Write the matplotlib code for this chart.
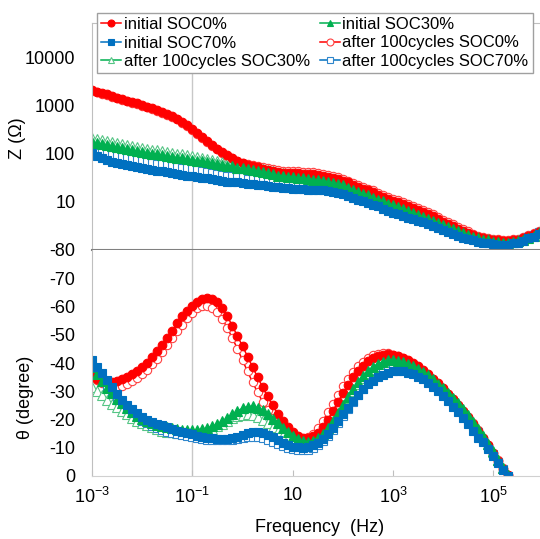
import matplotlib
matplotlib.use('Agg')
import matplotlib.pyplot as plt
from matplotlib.ticker import FixedLocator, FixedFormatter, NullLocator
import numpy as np

plt.rcParams['font.family'] = ['Liberation Sans', 'DejaVu Sans']
plt.rcParams['axes.unicode_minus'] = False
plt.rcParams.update({'mathtext.fontset': 'custom',
                     'mathtext.rm': 'Liberation Sans',
                     'mathtext.it': 'Liberation Sans:italic',
                     'mathtext.bf': 'Liberation Sans:bold'})

# %% data (10 points per decade sweep)
freq = np.logspace(-3, 6, 91)

# |Z| in ohm
z_init_soc0 = [2150, 2000, 1870, 1740, 1620, 1500, 1400, 1300, 1210, 1130,
               1050, 975, 910, 825, 750, 680, 620, 540, 465, 395,
               330, 275, 225, 187, 154, 130, 110, 95, 82, 73,
               65, 60, 56, 52.5, 48.7, 46.4, 44.2, 42.2, 41, 40.2,
               39.3, 39.3, 38.3, 38.3, 37.5, 36.5, 35, 33, 31.5, 29.5,
               28, 25.5, 23, 21, 19, 17.4, 15.8, 14.3, 13, 11.8,
               10.7, 10, 9.1, 8.2, 7.5, 6.8, 6.2, 5.6, 5.0, 4.4,
               3.9, 3.5, 3.1, 2.7, 2.5, 2.26, 2.05, 1.91, 1.78, 1.69,
               1.61, 1.58, 1.54, 1.54, 1.58, 1.65, 1.78, 1.96, 2.15, 2.4,
               2.74]
z_init_soc30 = [178, 170, 162, 154, 147, 140, 133, 127, 121, 115,
                110, 106, 102, 98, 95, 91, 87, 84, 81, 78,
                75, 73, 70, 68, 65, 62, 59, 57, 55, 52,
                50, 48, 45.5, 43.5, 41.5, 39.5, 37.5, 35.6, 34, 33.2,
                32.4, 31.6, 31, 30.1, 29.4, 28.7, 27.4, 26.1, 24.9, 23.2,
                22.1, 20, 18.2, 16.5, 15, 13.7, 12.4, 11.2, 10.3, 9.3,
                8.5, 7.9, 7.2, 6.5, 5.9, 5.4, 4.9, 4.4, 4.0, 3.65,
                3.3, 3.0, 2.74, 2.5, 2.26, 2.1, 1.91, 1.78, 1.65, 1.58,
                1.5, 1.47, 1.43, 1.43, 1.47, 1.54, 1.65, 1.82, 2.0, 2.26,
                2.55]
z_init_soc70 = [105, 91, 82.5, 75, 68, 65, 62, 59, 56, 53.6,
                51, 48.7, 46.4, 44.2, 43.2, 42.2, 40.2, 38.3, 36.5, 35.6,
                34.8, 33.2, 31.6, 30.9, 30.1, 28.7, 27.4, 26.7, 26.1, 25.5,
                24.9, 23.7, 23.2, 22.6, 22.1, 21.5, 21, 20.5, 20, 19.6,
                19.1, 18.7, 18.7, 18.2, 17.8, 17.8, 17.4, 16.9, 16.2, 15.4,
                14.7, 13.3, 12.4, 11.2, 10.3, 9.5, 8.7, 8.1, 7.3, 6.6,
                6.0, 5.6, 5.2, 4.75, 4.4, 4.0, 3.75, 3.5, 3.16, 2.87,
                2.6, 2.37, 2.15, 1.96, 1.82, 1.69, 1.58, 1.5, 1.4, 1.37,
                1.33, 1.3, 1.3, 1.3, 1.37, 1.43, 1.54, 1.74, 1.91, 2.2,
                2.5]
z_after_soc0 = [2090, 1940, 1810, 1690, 1570, 1460, 1360, 1260, 1170, 1100,
                1020, 945, 880, 800, 730, 660, 600, 525, 450, 385,
                320, 267, 218, 182, 150, 127, 107, 93, 81, 72,
                64, 62, 60, 57, 53.5, 51, 48.6, 46.4, 45, 44.2,
                43.2, 43.2, 42.1, 42.1, 41.2, 40.2, 38.5, 36.3, 34.7, 32.5,
                30.8, 28, 25.3, 23.1, 20.9, 19.1, 17.4, 15.7, 14.3, 13,
                11.8, 11, 10, 9.0, 8.25, 7.5, 6.8, 6.2, 5.5, 4.84,
                4.3, 3.85, 3.4, 3.0, 2.75, 2.49, 2.15, 2.0, 1.87, 1.77,
                1.69, 1.66, 1.62, 1.62, 1.66, 1.73, 1.87, 2.06, 2.26, 2.52,
                2.88]
z_after_soc30 = [215, 206, 196, 186, 178, 169, 161, 154, 146, 139,
                 133, 128, 123, 119, 115, 110, 105, 102, 98, 94,
                 89, 85, 81, 79, 75, 72, 68, 66, 64, 60,
                 58, 55, 52.5, 50, 48, 45.5, 43.3, 41, 39.3, 38.3,
                 37, 35.5, 34.1, 33.1, 32.3, 31.6, 30.1, 28.7, 27.4, 25.5,
                 24.3, 22, 20, 18.2, 16.5, 15.1, 13.6, 12.3, 11.3, 10.2,
                 9.4, 8.7, 7.9, 7.2, 6.5, 5.9, 5.4, 4.8, 4.4, 4.0,
                 3.6, 3.15, 2.88, 2.63, 2.37, 2.2, 2.0, 1.87, 1.73, 1.66,
                 1.58, 1.54, 1.5, 1.5, 1.54, 1.62, 1.73, 1.91, 2.1, 2.37,
                 2.68]
z_after_soc70 = [147, 127, 115, 105, 95, 91, 87, 83, 78, 75,
                 71, 68, 65, 62, 60.5, 59, 56, 54, 51, 50,
                 49, 46, 43.6, 42.3, 41, 38.7, 36.7, 35.5, 34.5, 33.4,
                 32.4, 30.7, 29.9, 29, 28.3, 27.4, 26.7, 26, 25.4, 24.9,
                 24.3, 23.7, 23.7, 23.1, 22.6, 22.6, 22.1, 21.5, 20.6, 19.6,
                 18.7, 16.5, 15, 13.6, 12.5, 11.5, 10.5, 9.8, 8.8, 8.0,
                 7.3, 6.8, 6.3, 5.7, 5.3, 4.8, 4.3, 4.0, 3.65, 3.3,
                 3.0, 2.74, 2.48, 2.26, 2.1, 1.95, 1.74, 1.65, 1.54, 1.5,
                 1.46, 1.43, 1.43, 1.43, 1.5, 1.57, 1.7, 1.91, 2.1, 2.42,
                 2.75]

# phase angle in degree (first 84 frequencies, up to ~2e5 Hz)
th_init_soc0 = [-35, -34.2, -33.6, -33.3, -33.3, -33.6, -34.2, -35, -36, -37,
                -38.5, -40, -42, -44.2, -46.5, -49, -51.5, -54, -56.5, -58.5,
                -60.3, -61.7, -62.6, -63, -62.7, -61.5, -59.5, -56.5, -53, -49.5,
                -46, -42.3, -38.6, -35, -31.5, -28.2, -25, -22.1, -19.5, -17.3,
                -15.5, -14.3, -13.6, -13.5, -14, -15.3, -17.4, -20, -23, -26.2,
                -29.3, -32.2, -34.9, -37.2, -39.1, -40.6, -41.7, -42.5, -43, -43.2,
                -43, -42.5, -41.8, -41, -40, -38.8, -37.5, -36, -34.5, -32.8,
                -31, -29.2, -27.2, -25.2, -23, -20.8, -18.5, -16, -13.5, -10.8,
                -8, -5.3, -2.6, -0.3]
th_init_soc30 = [-38.6, -36, -33.5, -31.3, -29.3, -27.4, -25.7, -24.1, -22.7, -21.4,
                 -20.3, -19.4, -18.7, -18.1, -17.6, -17.2, -16.9, -16.6, -16.4, -16.3,
                 -16.3, -16.4, -16.6, -17, -17.6, -18.4, -19.4, -20.6, -21.8, -23,
                 -24, -24.6, -24.7, -24.2, -23.2, -21.8, -20.2, -18.6, -17, -15.5,
                 -14.2, -13.1, -12.4, -12.2, -12.5, -13.4, -14.9, -17, -19.5, -22.3,
                 -25.2, -28.1, -30.8, -33.3, -35.4, -37.2, -38.6, -39.7, -40.5, -40.9,
                 -41, -40.8, -40.3, -39.7, -38.9, -37.9, -36.8, -35.6, -34.2, -32.7,
                 -31.1, -29.4, -27.6, -25.7, -23.7, -21.5, -19.2, -16.8, -14.2, -11.5,
                 -8.7, -5.8, -2.9, -0.3]
th_init_soc70 = [-41, -38.5, -36.5, -34, -31.5, -29, -27, -25.2, -23.6, -22.2,
                 -21, -20, -19.2, -18.5, -17.9, -17.3, -16.7, -16.1, -15.6, -15.1,
                 -14.7, -14.3, -13.9, -13.6, -13.3, -13.1, -13, -13.1, -13.4, -13.9,
                 -14.5, -15.1, -15.5, -15.6, -15.3, -14.6, -13.7, -12.7, -11.8, -11,
                 -10.4, -10.1, -10, -10.2, -10.8, -11.8, -13.2, -15, -17.1, -19.4,
                 -21.8, -24.2, -26.5, -28.7, -30.7, -32.4, -33.8, -35, -35.9, -36.6,
                 -37, -37.1, -37, -36.6, -36, -35.2, -34.2, -33, -31.6, -30,
                 -28.3, -26.5, -24.6, -22.6, -20.5, -18.3, -16, -13.6, -12, -9.5,
                 -7, -4.5, -2.2, 0]
th_after_soc0 = [-35.5, -34, -33, -32.3, -31.8, -31.7, -32, -32.6, -33.5, -34.6,
                 -36, -37.6, -39.5, -41.5, -43.8, -46.2, -48.7, -51.2, -53.6, -55.8,
                 -57.8, -59.3, -60.2, -60.3, -59.6, -58, -55.5, -52.3, -48.7, -45,
                 -41, -37, -33.2, -29.6, -26.3, -23.3, -20.7, -18.5, -16.6, -15.1,
                 -14, -13.3, -13.2, -13.8, -15, -17, -19.5, -22.5, -25.5, -28.7,
                 -31.7, -34.4, -36.8, -38.8, -40.5, -41.8, -42.7, -43.3, -43.5, -43.4,
                 -43, -42.4, -41.6, -40.7, -39.7, -38.5, -37.2, -35.8, -34.3, -32.6,
                 -30.9, -29.1, -27.2, -25.2, -23.1, -20.9, -18.6, -16.2, -13.6, -11,
                 -8.2, -5.5, -2.8, -0.4]
th_after_soc30 = [-31.5, -30, -28.5, -27, -25.6, -24.3, -23, -21.8, -20.6, -19.6,
                  -18.7, -17.9, -17.2, -16.6, -16.1, -15.7, -15.4, -15.2, -15.1, -15.1,
                  -15.2, -15.4, -15.7, -16.2, -16.8, -17.6, -18.5, -19.5, -20.4, -21.2,
                  -21.7, -21.9, -21.7, -21, -20, -18.7, -17.3, -15.9, -14.6, -13.5,
                  -12.6, -12, -11.7, -11.8, -12.3, -13.3, -14.8, -16.8, -19.2, -21.9,
                  -24.7, -27.5, -30.1, -32.5, -34.6, -36.4, -37.8, -38.9, -39.7, -40.1,
                  -40.3, -40.2, -39.8, -39.2, -38.5, -37.6, -36.5, -35.3, -34, -32.5,
                  -30.9, -29.2, -27.4, -25.5, -23.5, -21.3, -19, -16.6, -14, -11.3,
                  -8.5, -5.7, -2.8, -0.3]
th_after_soc70 = [-36.5, -35, -33.2, -31.2, -29.2, -27.2, -25.4, -23.7, -22.2, -20.8,
                  -19.6, -18.6, -17.7, -16.9, -16.3, -15.7, -15.2, -14.8, -14.4, -14,
                  -13.7, -13.4, -13.1, -12.9, -12.7, -12.6, -12.6, -12.7, -12.9, -13.2,
                  -13.5, -13.8, -13.9, -13.8, -13.4, -12.8, -12.1, -11.3, -10.6, -10,
                  -9.5, -9.2, -9.1, -9.3, -9.9, -10.9, -12.3, -14.1, -16.2, -18.6,
                  -21.1, -23.7, -26.2, -28.6, -30.8, -32.8, -34.5, -35.9, -37, -37.8,
                  -38.2, -38.3, -38.1, -37.7, -37, -36.1, -35.1, -33.9, -32.6, -31.1,
                  -29.5, -27.8, -26, -24.1, -22.1, -20, -17.8, -15.4, -12.9, -10.3,
                  -7.7, -5.1, -2.5, 0]

x_ticks = [1e-3, 1e-1, 10, 1e3, 1e5]
x_ticklabels = ['10$^{-3}$', '10$^{-1}$', '10', '10$^{3}$', '10$^{5}$']
z_ticks = [10, 100, 1000, 10000]
th_ticks = [0, -10, -20, -30, -40, -50, -60, -70, -80]

# %%
RED, GREEN, BLUE = '#FF0000', '#00B050', '#0070C0'
W, H = 540, 539
fig = plt.figure(figsize=(W / 100, H / 100), dpi=100)
ax_z = fig.add_axes([92 / W, 1 - 250 / H, 448 / W, 227 / H])
ax_t = fig.add_axes([92 / W, 1 - 476 / H, 448 / W, 226 / H], sharex=ax_z)

# (label, Z, theta, line colour, marker, face, edge, size) - after-cycle first so
# the initial series sit on top
series = [
    ('after 100cycles SOC0%', z_after_soc0, th_after_soc0, RED, 'o', 'white', '#FF4040', 6),
    ('after 100cycles SOC30%', z_after_soc30, th_after_soc30, GREEN, '^', 'white', '#55C585', 6.5),
    ('after 100cycles SOC70%', z_after_soc70, th_after_soc70, BLUE, 's', 'white', '#2F86CC', 5.6),
    ('initial SOC0%', z_init_soc0, th_init_soc0, RED, 'o', RED, RED, 6.2),
    ('initial SOC30%', z_init_soc30, th_init_soc30, GREEN, '^', GREEN, GREEN, 6.5),
    ('initial SOC70%', z_init_soc70, th_init_soc70, BLUE, 's', BLUE, BLUE, 5.6),
]
handles = {}
for label, z, th, color, mk, mfc, mec, ms in series:
    kw = dict(color=color, lw=1.1, marker=mk, ms=ms, mfc=mfc, mec=mec, mew=0.8)
    l1, = ax_z.plot(freq, z, label=label, **kw)
    ax_t.plot(freq[:len(th)], th, **kw)
    handles[label] = l1

for ax in (ax_z, ax_t):
    ax.axvline(0.1, color='#c8c8c8', lw=1.0, zorder=0)
    ax.set_xscale('log')
    ax.spines['right'].set_visible(False)
    ax.spines['left'].set_color('#bfbfbf')
    ax.tick_params(axis='y', length=0, pad=12, labelsize=13)

ax_z.set_xlim(1e-3, 8.5e5)
ax_z.set_yscale('log')
ax_z.set_ylim(1, 53600)
ax_z.yaxis.set_major_locator(FixedLocator(z_ticks))
ax_z.yaxis.set_major_formatter(FixedFormatter([str(t) for t in z_ticks]))
ax_z.yaxis.set_minor_locator(NullLocator())
ax_z.spines['top'].set_color('#bfbfbf')
ax_z.spines['bottom'].set_color('#808080')
ax_z.spines['bottom'].set_linewidth(1.5)
ax_z.tick_params(axis='x', which='both', bottom=False, labelbottom=False)

ax_t.set_ylim(0, -80)
ax_t.yaxis.set_major_locator(FixedLocator(th_ticks))
ax_t.yaxis.set_major_formatter(FixedFormatter([str(t) for t in th_ticks]))
ax_t.spines['top'].set_visible(False)
ax_t.spines['bottom'].set_color('#d0d0d0')
ax_t.xaxis.set_major_locator(FixedLocator(x_ticks))
ax_t.xaxis.set_major_formatter(FixedFormatter(x_ticklabels))
ax_t.xaxis.set_minor_locator(NullLocator())
ax_t.tick_params(axis='x', direction='in', length=4, color='#bfbfbf', pad=8, labelsize=13)

fig.text(17 / W, 1 - 138 / H, 'Z (Ω)', rotation=90, ha='center', va='center', fontsize=13)
fig.text(25 / W, 1 - 397 / H, 'θ (degree)', rotation=90, ha='center', va='center', fontsize=13)
fig.text(320 / W, 1 - 527 / H, 'Frequency  (Hz)', ha='center', va='center', fontsize=13)

order = ['initial SOC0%', 'initial SOC70%', 'after 100cycles SOC30%',
         'initial SOC30%', 'after 100cycles SOC0%', 'after 100cycles SOC70%']
leg = fig.legend([handles[k] for k in order], order, loc='upper left',
                 bbox_to_anchor=(97 / W, 1 - 13 / H), ncol=2, fontsize=12,
                 handlelength=1.2, handletextpad=0.15, columnspacing=0.6,
                 labelspacing=0.2, borderpad=0.25, borderaxespad=0,
                 fancybox=False, edgecolor='#a0a0a0', framealpha=1)
leg.get_frame().set_linewidth(1.0)
for h in leg.legend_handles:
    h.set_markersize(5)

plt.savefig('out.png', dpi=100)
